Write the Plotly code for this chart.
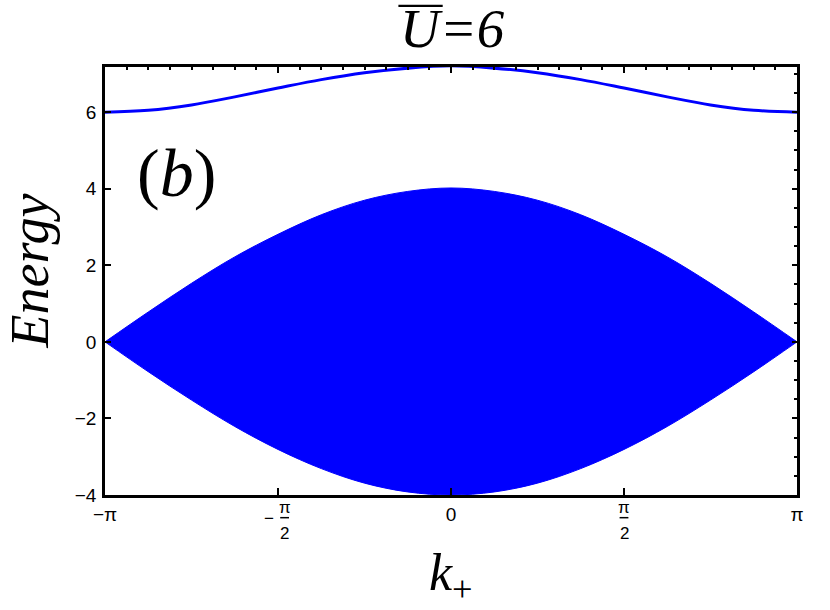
import numpy as np
import plotly.graph_objects as go

# momentum k_+ in units of pi
K_OVER_PI = [-1.0, -0.875, -0.75, -0.625, -0.5, -0.375, -0.25, -0.125, 0.0,
             0.125, 0.25, 0.375, 0.5, 0.625, 0.75, 0.875, 1.0]
# isolated upper band (bound state)
UPPER_BAND = [6.00, 6.05, 6.19, 6.40, 6.63, 6.85, 7.03, 7.15, 7.21,
              7.15, 7.03, 6.85, 6.63, 6.40, 6.19, 6.05, 6.00]
# continuum: top and bottom edges
CONT_TOP = [0.00, 0.78, 1.53, 2.22, 2.81, 3.32, 3.70, 3.93, 4.02,
            3.93, 3.70, 3.32, 2.81, 2.22, 1.53, 0.78, 0.00]
CONT_BOT = [0.00, -0.78, -1.52, -2.21, -2.81, -3.31, -3.69, -3.92, -4.00,
            -3.92, -3.69, -3.31, -2.81, -2.21, -1.52, -0.78, 0.00]

# plain labels on the bottom axis; the +-pi/2 ones are drawn as stacked fractions
X_TICKS = [-np.pi, 0, np.pi]
X_TICKTEXT = ["\u2212\u03c0", "0", "\u03c0"]

BLUE = "#0000FF"
SERIF = "Liberation Serif, Times New Roman, serif"
SANS = "Liberation Sans, Arial, sans-serif"

k = np.array(K_OVER_PI) * np.pi

fig = go.Figure()
fig.add_trace(go.Scatter(x=k, y=CONT_TOP, mode="lines", line=dict(color=BLUE, width=1, shape="spline"),
                         hoverinfo="skip", showlegend=False))
fig.add_trace(go.Scatter(x=k, y=CONT_BOT, mode="lines", line=dict(color=BLUE, width=1, shape="spline"),
                         fill="tonexty", fillcolor=BLUE, hoverinfo="skip", showlegend=False))
fig.add_trace(go.Scatter(x=k, y=UPPER_BAND, mode="lines", line=dict(color=BLUE, width=3, shape="spline"),
                         hoverinfo="skip", showlegend=False))
# empty trace so the top/right frame axes get drawn
fig.add_trace(go.Scatter(x=[None], y=[None], xaxis="x2", yaxis="y2", mode="lines",
                         hoverinfo="skip", showlegend=False))

frame = dict(showline=True, linecolor="black", linewidth=2.5, showgrid=False, zeroline=False,
             ticks="inside", tickcolor="black", tickwidth=2)
tick_font = dict(family=SANS, size=19, color="black")
y_range = [-4, 7.18]

fig.update_layout(
    width=830, height=610,
    margin=dict(l=105, r=33, t=67, b=115),
    plot_bgcolor="white", paper_bgcolor="white",
    xaxis=dict(range=[-np.pi, np.pi], tickvals=X_TICKS, ticktext=X_TICKTEXT, ticklen=7,
               minor=dict(ticks="inside", tick0=-np.pi, dtick=np.pi / 2, ticklen=7, tickwidth=2,
                          tickcolor="black"),
               tickfont=tick_font, **frame),
    yaxis=dict(range=y_range, tick0=0, dtick=2, ticklen=6, ticklabelstandoff=2,
               tickfont=tick_font, **frame),
    xaxis2=dict(range=[-np.pi, np.pi], overlaying="x", side="top", showticklabels=False,
                tickmode="linear", tick0=-np.pi, dtick=np.pi / 2, ticklen=6,
                minor=dict(ticks="inside", tick0=-np.pi, dtick=np.pi / 16, ticklen=3, tickwidth=1.5,
                           tickcolor="black"),
                **frame),
    yaxis2=dict(range=y_range, overlaying="y", side="right", showticklabels=False,
                tickmode="linear", tick0=-4, dtick=2, ticklen=5,
                minor=dict(ticks="inside", tick0=-4, dtick=0.5, ticklen=3, tickwidth=1.5,
                           tickcolor="black"),
                **frame),
    showlegend=False,
)

# fractional tick labels -pi/2 and pi/2
frac_font = dict(family=SANS, size=17, color="black")
half = np.pi / 2
for sign, xc in [(-1, -half), (1, half)]:
    shift = 0.06 if sign < 0 else 0.0
    fig.add_annotation(x=xc + shift, y=-0.03, xref="x", yref="paper", text="\u03c0",
                       showarrow=False, font=frac_font, yanchor="middle")
    fig.add_annotation(x=xc + shift, y=-0.089, xref="x", yref="paper", text="2",
                       showarrow=False, font=frac_font, yanchor="middle")
    fig.add_shape(type="line", xref="x", yref="paper", x0=xc + shift - 0.04, x1=xc + shift + 0.04,
                  y0=-0.053, y1=-0.053, line=dict(color="black", width=1.5))
    if sign < 0:
        fig.add_annotation(x=xc - 0.08, y=-0.056, xref="x", yref="paper", text="\u2212",
                           showarrow=False, font=frac_font, yanchor="middle")

# titles
fig.add_annotation(x=0.502, y=1.091, xref="paper", yref="paper", showarrow=False, yanchor="middle",
                   text="<i>U=6</i>", font=dict(family=SERIF, size=55, color="black"))
# bar over the U
fig.add_shape(type="line", xref="paper", yref="paper", x0=0.424, x1=0.488, y0=1.143, y1=1.143,
              line=dict(color="black", width=2.2))
fig.add_annotation(x=0.5, y=-0.19, xref="paper", yref="paper", showarrow=False, yanchor="middle",
                   text="<i>k</i><sub>+</sub>", font=dict(family=SERIF, size=52, color="black"))
fig.add_annotation(x=-0.108, y=0.523, xref="paper", yref="paper", showarrow=False, textangle=-90,
                   xanchor="center", yanchor="middle",
                   text="<i>Energy</i>", font=dict(family=SERIF, size=54, color="black"))
fig.add_annotation(x=0.103, y=0.752, xref="paper", yref="paper", showarrow=False,
                   xanchor="center", yanchor="middle",
                   text="(<i>b</i>)", font=dict(family=SERIF, size=68, color="black"))

# drop the default 8px body margin so the figure fills the window exactly
fig.write_html("out.html", config={"displayModeBar": False},
               post_script="document.body.style.margin = '0px';")
